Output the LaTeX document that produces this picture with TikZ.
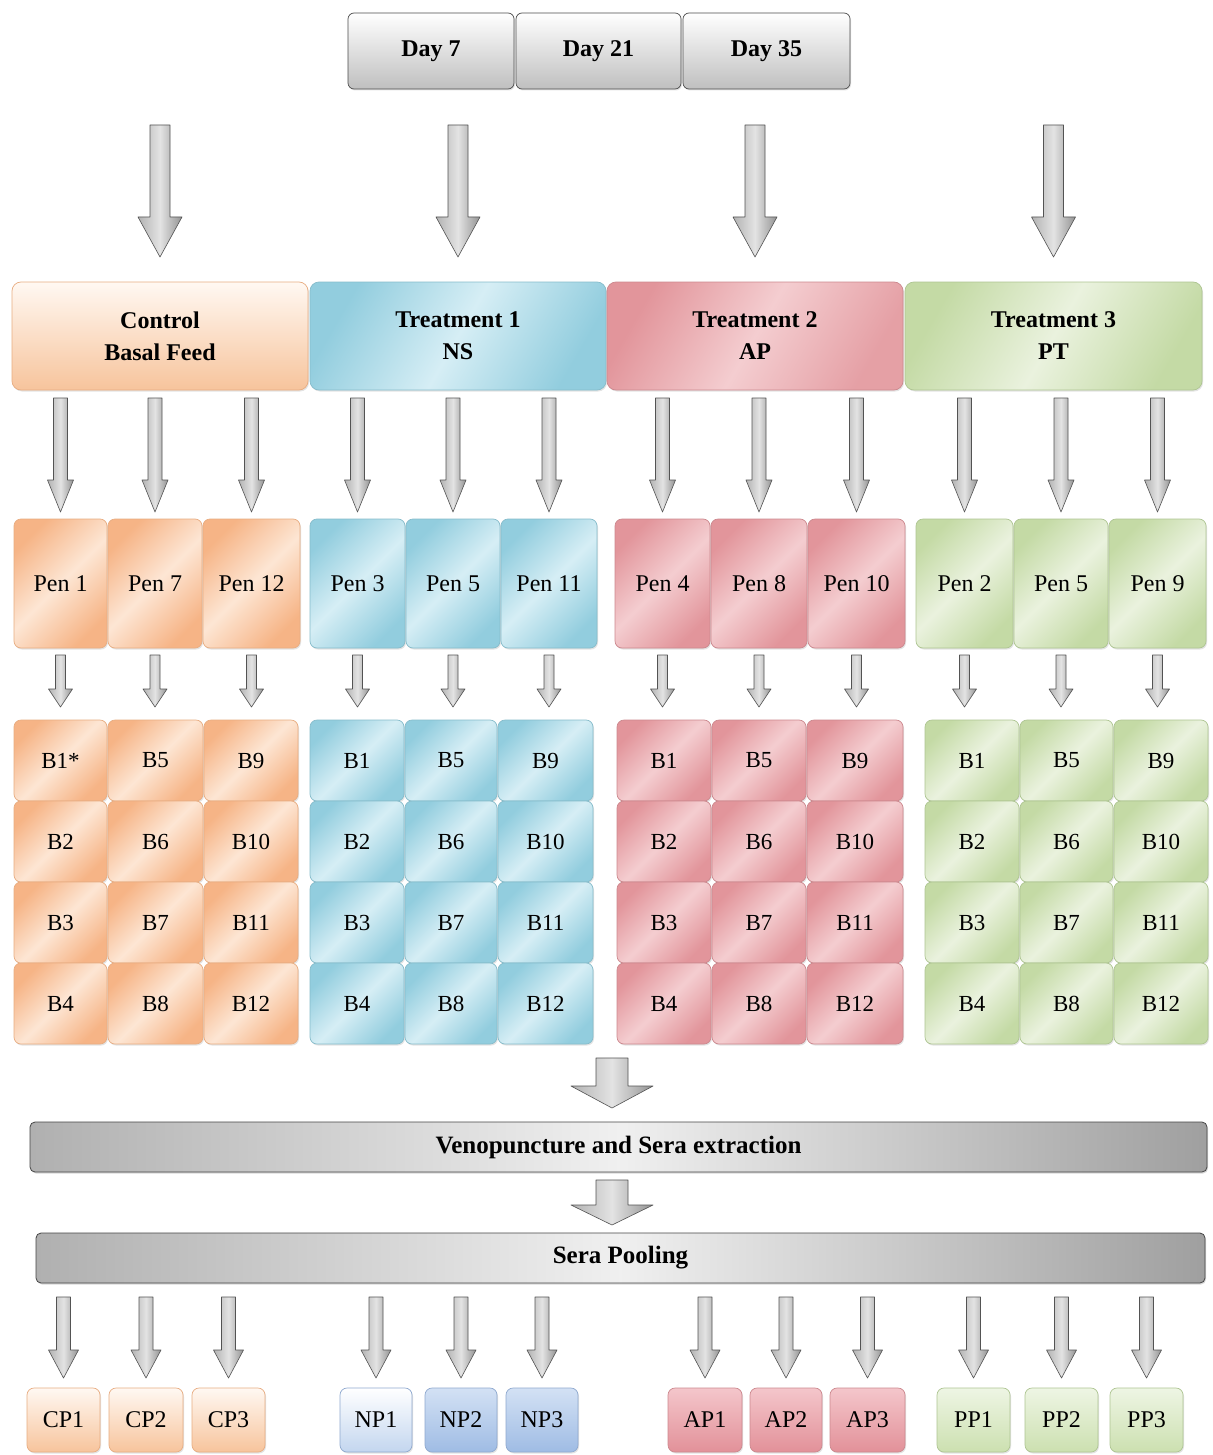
\documentclass[tikz,border=0pt]{standalone}
\usepackage{fontspec}
\setmainfont{Liberation Serif}
\usetikzlibrary{calc,shadows}
% group colours: C control (orange), N treatment 1 (blue), A treatment 2 (red), P treatment 3 (green)
\definecolor{dkC}{HTML}{F6B486}\definecolor{ltC}{HTML}{FDE6D4}\definecolor{bdC}{HTML}{E8AD82}
\definecolor{dkN}{HTML}{92CDDE}\definecolor{ltN}{HTML}{D6EEF5}\definecolor{bdN}{HTML}{86BCCB}
\definecolor{dkA}{HTML}{E2959B}\definecolor{ltA}{HTML}{F4CDD0}\definecolor{bdA}{HTML}{CC888E}
\definecolor{dkP}{HTML}{C4DAA5}\definecolor{ltP}{HTML}{EAF2DE}\definecolor{bdP}{HTML}{AEC592}
\definecolor{qtC}{HTML}{FFF8F2}\definecolor{qbC}{HTML}{F7C49C}
\definecolor{qtN1}{HTML}{FFFFFF}\definecolor{qbN1}{HTML}{C3D6EF}
\definecolor{qtN}{HTML}{D3E1F4}\definecolor{qbN}{HTML}{9FBCE4}
\definecolor{qtA}{HTML}{F4C6CB}\definecolor{qbA}{HTML}{E29199}
\definecolor{qtP}{HTML}{EEF5E4}\definecolor{qbP}{HTML}{CCE0B0}
\definecolor{bdN1}{HTML}{8FA9CF}
\newcommand\fs[1]{\fontsize{#1}{#1}\selectfont}
% rounded box from corners: name, style, x1, y1, x2, y2, text
\newcommand\rbox[7]{%
  \pgfmathsetmacro\bcx{(#3+#5)/2}\pgfmathsetmacro\bcy{(#4+#6)/2}%
  \pgfmathsetmacro\bw{#5-#3}\pgfmathsetmacro\bh{#6-#4}%
  \node[#2, minimum width=\bw pt, minimum height=\bh pt] (#1) at (\bcx,\bcy) {#7};}
% downward block arrow: from, to, shaft width, head width, head length
\newcommand\barrow[5]{%
  \path let \p1=(#1), \p2=(#2) in [arrsty]
    ({\x1-#3pt/2},\y1) -- ({\x1+#3pt/2},\y1) -- ({\x1+#3pt/2},{\y2+#5pt})
    -- ({\x1+#4pt/2},{\y2+#5pt}) -- (\x1,\y2) -- ({\x1-#4pt/2},{\y2+#5pt})
    -- ({\x1-#3pt/2},{\y2+#5pt}) -- cycle;}
\tikzset{
  arrsty/.style={draw=gray!65!black, line width=0.6pt, line join=round,
    left color=gray!60, right color=gray!85, middle color=gray!22},
  cell/.style={rounded corners=7pt, inner sep=0pt, outer sep=0pt, line width=0.7pt,
    font=\fs{24}, drop shadow={shadow xshift=1pt, shadow yshift=-1.5pt, opacity=0.22}},
  dayb/.style={cell, rounded corners=6pt, top color=white, bottom color=gray!50,
    draw=gray!60!black, font=\bfseries\fs{24}},
  trt/.style={cell, rounded corners=9pt, align=center, font=\bfseries\fontsize{24}{32}\selectfont},
  bar/.style={rounded corners=5pt, inner sep=0pt, outer sep=0pt, draw=gray!55!black,
    line width=0.8pt, left color=gray!62, right color=gray!75, middle color=gray!12,
    font=\bfseries\fs{25}, drop shadow={shadow xshift=1pt, shadow yshift=-1.5pt, opacity=0.3}}
}
\begin{document}
\begin{tikzpicture}[x=1pt,y=-1pt]
\useasboundingbox[fill=white] (0,0) rectangle (1212,1455);
% days
\rbox{d7}{dayb}{348}{13}{514}{89}{Day 7}
\rbox{d21}{dayb}{516}{13}{681}{89}{Day 21}
\rbox{d35}{dayb}{683}{13}{850}{89}{Day 35}
% treatments
\rbox{TC}{trt, top color=qtC, bottom color=qbC, draw=bdC}{12}{282}{308}{390}{Control\\Basal Feed}
\rbox{TN}{trt, left color=dkN, right color=dkN, middle color=ltN, shading angle=60, draw=bdN}{310}{282}{606}{390}{Treatment 1\\NS}
\rbox{TA}{trt, left color=dkA, right color=dkA!90, middle color=ltA, shading angle=60, draw=bdA}{607}{282}{903}{390}{Treatment 2\\AP}
\rbox{TP}{trt, left color=dkP, right color=dkP, middle color=ltP, shading angle=60, draw=bdP}{905}{282}{1202}{390}{Treatment 3\\PT}
\foreach \g in {C,N,A,P}{
  \coordinate (s\g) at ($(T\g.north)+(0,-157)$);
  \barrow{s\g}{$(T\g.north)+(0,-25)$}{20}{44}{40}
}
% bird grids
\foreach \g/\c/\xa/\xb in {C/1/14/107,C/2/108/203,C/3/204/298,
  N/1/310/404,N/2/405/497,N/3/498/593,
  A/1/617/711,A/2/712/806,A/3/807/903,
  P/1/925/1019,P/2/1020/1113,P/3/1114/1208}{
  \foreach \r in {1,2,3,4}{
    \pgfmathsetmacro\ya{720+81*(\r-1)}\pgfmathsetmacro\yb{\ya+81}
    \pgfmathtruncatemacro\n{(\c-1)*4+\r}
    \def\st{}\ifnum\n=1 \if C\g \def\st{*}\fi\fi
    \rbox{b\g\c\r}{cell, font=\fs{23}, left color=dk\g, right color=dk\g, middle color=lt\g, shading angle=45, draw=bd\g}{\xa}{\ya}{\xb}{\yb}{B\n\st}
  }
}
% pens
\foreach \g/\c/\xa/\xb/\lab in {C/1/14/107/1,C/2/108/202/7,C/3/203/300/12,
  N/1/310/405/3,N/2/406/500/5,N/3/501/597/11,
  A/1/615/710/4,A/2/711/807/8,A/3/808/905/10,
  P/1/916/1013/2,P/2/1014/1108/5,P/3/1109/1206/9}{
  \rbox{p\g\c}{cell, left color=dk\g, right color=dk\g, middle color=lt\g, shading angle=45, draw=bd\g}{\xa}{519}{\xb}{648}{Pen \lab}
  \barrow{$(T\g.south -| p\g\c.north)+(0,8)$}{$(p\g\c.north)+(0,-7)$}{14}{26}{32}
  \barrow{$(p\g\c.south)+(0,7)$}{$(p\g\c.south |- b\g\c1.north)+(0,-13)$}{10}{24}{18}
}
% processing
\rbox{veno}{bar}{30}{1122}{1207}{1172}{Venopuncture and Sera extraction}
\rbox{pool}{bar}{36}{1233}{1205}{1283}{Sera Pooling}
\coordinate (g1) at (612,1058);
\barrow{g1}{$(g1 |- veno.north)+(0,-14)$}{32}{82}{22}
\barrow{$(veno.south -| g1)+(0,8)$}{$(g1 |- pool.north)+(0,-8)$}{32}{82}{20}
% pools
\foreach \g/\c/\xa/\xb/\qt/\qb/\bd in {C/1/27/100/qtC/qbC/bdC,C/2/109/183/qtC/qbC/bdC,C/3/192/265/qtC/qbC/bdC,
  N/1/340/412/qtN1/qbN1/bdN1,N/2/425/497/qtN/qbN/bdN1,N/3/506/578/qtN/qbN/bdN1,
  A/1/668/742/qtA/qbA/bdA,A/2/750/822/qtA/qbA/bdA,A/3/830/905/qtA/qbA/bdA,
  P/1/937/1010/qtP/qbP/bdP,P/2/1025/1098/qtP/qbP/bdP,P/3/1110/1183/qtP/qbP/bdP}{
  \rbox{q\g\c}{cell, top color=\qt, bottom color=\qb, draw=\bd}{\xa}{1388}{\xb}{1452}{\g P\c}
  \barrow{$(pool.south -| q\g\c.north)+(0,14)$}{$(q\g\c.north)+(0,-10)$}{14}{30}{28}
}
\end{tikzpicture}
\end{document}
